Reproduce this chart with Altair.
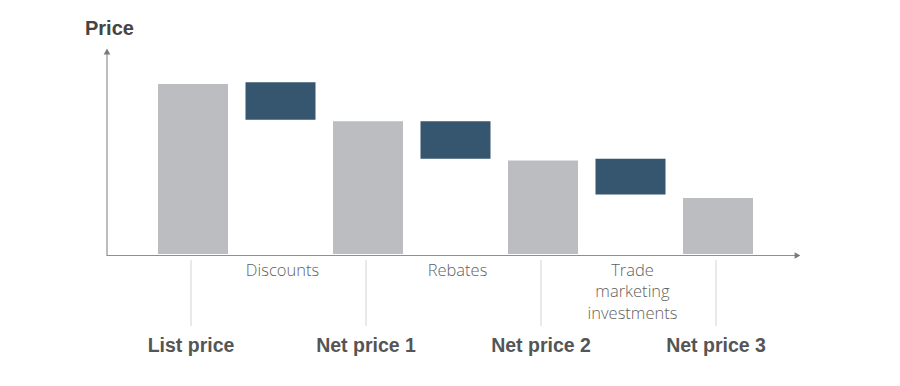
import altair as alt
import pandas as pd

# ---- data ----
categories = ["List price", "Discounts", "Net price 1", "Rebates",
              "Net price 2", "Trade marketing investments", "Net price 3"]
kinds = ["total", "step", "total", "step", "total", "step", "total"]
starts = [0, 101, 0, 78, 0, 56, 0]
ends = [100, 79, 78, 56, 55, 35, 33]
labels = ["List price", "Discounts", "Net price 1", "Rebates",
          "Net price 2", "Trade\nmarketing\ninvestments", "Net price 3"]

df = pd.DataFrame({"cat": categories, "kind": kinds, "start": starts,
                   "end": ends, "label": labels})

W, H = 692, 210
GRAY = "#bcbdc1"
BLUE = "#36556f"
AXIS = "#8f8f8f"

xenc = alt.X("cat:N", sort=categories, axis=None,
             scale=alt.Scale(range=[50, 645], paddingInner=0.2, paddingOuter=0))
yscale = alt.Scale(domain=[0, 123.5], nice=False, zero=True)

base = alt.Chart(df)

bars = base.mark_bar(size=70).encode(
    x=xenc,
    y=alt.Y("start:Q", scale=yscale, axis=None),
    y2="end:Q",
    color=alt.Color("kind:N", scale=alt.Scale(domain=["total", "step"], range=[GRAY, BLUE]), legend=None),
)

ticks = base.transform_filter(alt.datum.kind == "total").mark_rule(
    color="#d4d4d4", strokeWidth=1, xOffset=-2
).encode(x=xenc, y=alt.value(216), y2=alt.value(282))

total_labels = base.transform_filter(alt.datum.kind == "total").mark_text(
    font="Liberation Sans", fontWeight="bold", fontSize=19.5, color="#555555",
    baseline="alphabetic", align="center", dx=-2
).encode(x=xenc, y=alt.value(308), text="label:N")

step_labels = base.transform_filter(alt.datum.kind == "step").mark_text(
    font="Open Sans", fontWeight=300, fontSize=16.5, color="#5f5f5f",
    baseline="alphabetic", align="center", lineBreak="\n", lineHeight=21.5, dx=2
).encode(x=xenc, y=alt.value(231.5), text="label:N")

# axes with arrowheads
yaxis = alt.Chart(pd.DataFrame({"a": [0]})).mark_rule(color=AXIS, strokeWidth=1.2).encode(
    x=alt.value(-1), y=alt.value(212), y2=alt.value(9))
yarrow = alt.Chart(pd.DataFrame({"a": [0]})).mark_point(
    shape="triangle-up", filled=True, color="#7a7a7a", size=45, opacity=1).encode(
    x=alt.value(-1), y=alt.value(7.5))
xaxis = alt.Chart(pd.DataFrame({"a": [0]})).mark_rule(color=AXIS, strokeWidth=1.2).encode(
    x=alt.value(-1), x2=alt.value(688), y=alt.value(211.5))
xarrow = alt.Chart(pd.DataFrame({"a": [0]})).mark_point(
    shape="triangle-right", filled=True, color="#7a7a7a", size=45, opacity=1).encode(
    x=alt.value(689.5), y=alt.value(211.5))

title = alt.Chart(pd.DataFrame({"t": ["Price"]})).mark_text(
    font="Liberation Sans", fontWeight="bold", fontSize=20, color="#444444",
    align="left", baseline="alphabetic").encode(
    x=alt.value(-23), y=alt.value(-9), text="t:N")

chart = alt.layer(bars, ticks, total_labels, step_labels, yaxis, yarrow, xaxis, xarrow, title).properties(
    width=W, height=H,
    autosize=alt.AutoSizeParams(type="none"),
    padding={"left": 100, "top": 36, "right": 92, "bottom": 124},
    background="white",
).configure_view(stroke=None)

chart.save("out.html", embed_options={"renderer": "svg", "actions": False})
